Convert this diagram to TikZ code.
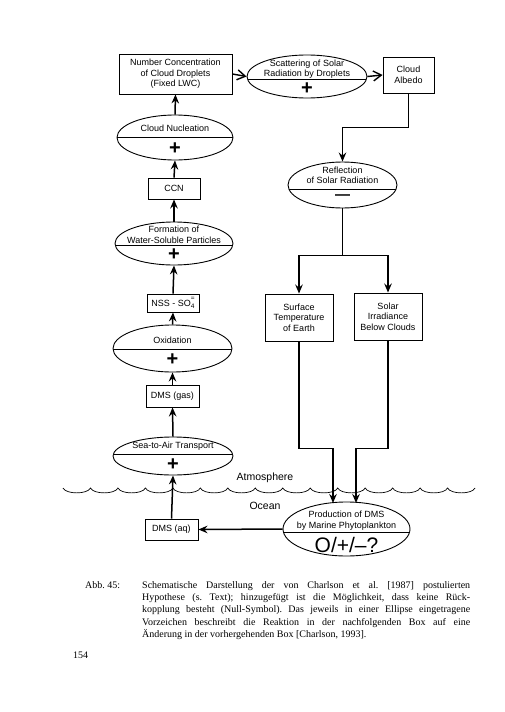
\documentclass[tikz,border=0pt]{standalone}
\usepackage{fontspec}
\setmainfont{Liberation Serif}
\newfontfamily\hel{Liberation Sans}
\usetikzlibrary{shapes.geometric,arrows.meta}
\frenchspacing
\begin{document}
\begin{tikzpicture}[x=1pt,y=-1pt,
  txt/.style={font=\hel\fontsize{9}{10.5}\selectfont,align=center,inner sep=0pt},
  box/.style={txt,draw,line width=0.9pt},
  ell/.style={draw,ellipse,line width=0.9pt,inner sep=0pt},
  sign/.style={font=\hel\bfseries\fontsize{20}{20}\selectfont,inner sep=0pt},
  arr/.style={line width=1.5pt,-{Stealth[length=9pt,width=7.5pt,inset=3pt]}},
  barb/.style={line width=1.4pt,-{Straight Barb[length=8pt,width=10pt,line width=1.4pt]}},
  conn/.style={line width=1.5pt},
  divider/.style={path picture={\draw[line width=0.9pt] ([yshift=#1]path picture bounding box.west) -- ([yshift=#1]path picture bounding box.east);}},
  captxt/.style={font=\fontsize{10}{12.3}\selectfont,inner sep=0pt}
]
\useasboundingbox (0,0) rectangle (504,712);

% boxes
\node[box,minimum width=113pt,minimum height=40pt] (num) at (175.5,74) {Number Concentration\\of Cloud Droplets\\(Fixed LWC)};
\node[box,minimum width=51pt,minimum height=36pt] (alb) at (408.5,75) {Cloud\\Albedo};
\node[box,minimum width=52pt,minimum height=21pt] (ccn) at (174,188.5) {CCN};
\node[box,minimum width=52pt,minimum height=18pt] (nss) at (173,303) {NSS - SO\raisebox{-2.2pt}{\fontsize{6.5}{5.5}\selectfont\shortstack{=\\4}}};
\node[box,minimum width=53pt,minimum height=22pt] (dmsg) at (172.5,396) {DMS (gas)};
\node[box,minimum width=53pt,minimum height=21pt] (dmsaq) at (171.5,529.5) {DMS (aq)};
\node[box,minimum width=68pt,minimum height=47pt] (surf) at (299,317.5) {Surface\\Temperature\\of Earth};
\node[box,minimum width=68pt,minimum height=47pt] (sol) at (388,316.5) {Solar\\Irradiance\\Below Clouds};

% ellipses
\node[ell,divider=-2.5pt,minimum width=120pt,minimum height=43pt] (scat) at (307,76.5) {};
\node[txt] (scatt) at (307,69) {Scattering of Solar\\Radiation by Droplets};
\node[sign] (scats) at (307,89) {+};

\node[ell,divider=0pt,minimum width=116pt,minimum height=45pt] (cn) at (175,137.5) {};
\node[txt] (cnt) at (175,128) {Cloud Nucleation};
\node[sign] (cns) at (175,148.5) {+};

\node[ell,divider=-1.5pt,minimum width=118pt,minimum height=43pt] (form) at (174,243.5) {};
\node[txt] (formt) at (174,235) {Formation of\\Water-Soluble Particles};
\node[sign] (forms) at (174,254.5) {+};

\node[ell,divider=-0.5pt,minimum width=119pt,minimum height=47pt] (ox) at (172.5,348.5) {};
\node[txt] (oxt) at (172.5,340.5) {Oxidation};
\node[sign] (oxs) at (172.5,359.5) {+};

\node[ell,divider=2pt,minimum width=120pt,minimum height=38pt] (sea) at (173,456) {};
\node[txt] (seat) at (173,446.5) {Sea-to-Air Transport};
\node[sign] (seas) at (173,464.5) {+};

\node[ell,divider=-4pt,minimum width=109pt,minimum height=46pt] (refl) at (342.5,185) {};
\node[txt] (reflt) at (342.5,175.5) {Reflection\\of Solar Radiation};
\node[font=\hel\bfseries\fontsize{15}{15}\selectfont,inner sep=0pt] (refls) at (342.5,197) {—};

\node[ell,divider=-3pt,minimum width=127pt,minimum height=54pt] (prod) at (346.5,529) {};
\node[txt] (prodt) at (346.5,520.5) {Production of DMS\\by Marine Phytoplankton};
\node[font=\hel\fontsize{21}{21}\selectfont,inner sep=0pt] (prods) at (346.5,545) {O/+/–?};

% sea surface
\node[txt,font=\hel\fontsize{10.5}{12}\selectfont] (atm) at (265,478) {Atmosphere};
\node[txt,font=\hel\fontsize{10.5}{12}\selectfont] (oce) at (265,506) {Ocean};
\draw[line width=0.7pt] (63,488)
  \foreach \i in {0,...,14} { .. controls ({63+27.47*\i+3},494.5) and ({63+27.47*\i+24.5},494.5) .. ({63+27.47*(\i+1)},488) };

% connectors
\coordinate (pin1) at (333,503);
\coordinate (pin2) at (356,503);
\draw[barb] (num.east) -- (scat.west);
\draw[barb] (scat.east) -- (alb.west);
\draw[arr] (alb.south) -- ++(0,34) -| (refl.north);
\draw[conn] (refl.south) -- ++(0,47) coordinate (br);
\draw[arr] (br) -| (surf.north);
\draw[arr] (br) -| (sol.north);
\draw[arr] (surf.south) -- ++(0,107) -| (pin1);
\draw[arr] (sol.south) -- ++(0,108) -| (pin2);
\draw[arr] (prod.west) -- (dmsaq.east);
\draw[arr] (dmsaq.north) -- (sea.south);
\draw[arr] (sea.north) -- (dmsg.south);
\draw[arr] (dmsg.north) -- (ox.south);
\draw[arr] (ox.north) -- (nss.south);
\draw[arr] (nss.north) -- (form.south);
\draw[arr] (form.north) -- (ccn.south);
\draw[arr] (ccn.north) -- (cn.south);
\draw[arr] (cn.north) -- (num.south);

% caption
\node[captxt,anchor=north west] (abb) at (85,579.5) {\strut Abb. 45:};
\node[captxt,anchor=north west,text width=328pt,align=justify] (captext) at (142,579.5) {\strut Schematische Darstellung der von Charlson et al. [1987] postulierten\linebreak Hypothese (s. Text); hinzugefügt ist die Möglichkeit, dass keine Rück-\linebreak kopplung besteht (Null-Symbol). Das jeweils in einer Ellipse eingetragene\linebreak Vorzeichen beschreibt die Reaktion in der nachfolgenden Box auf eine\linebreak Änderung in der vorhergehenden Box [Charlson, 1993].};
\node[captxt,anchor=north west] (pnum) at (73,649.5) {\strut 154};
\end{tikzpicture}
\end{document}
